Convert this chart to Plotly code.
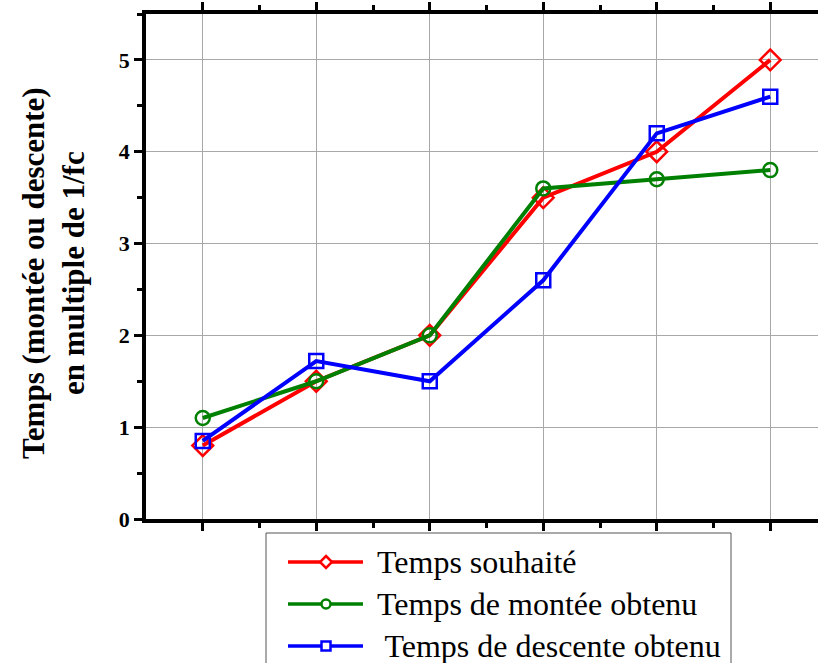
import plotly.graph_objects as go

# Sample index along the horizontal axis (no labels shown)
points = [1, 2, 3, 4, 5, 6]

# Times expressed in multiples of 1/fc
temps_souhaite = [0.8, 1.5, 2.0, 3.5, 4.0, 5.0]
temps_montee = [1.1, 1.5, 2.0, 3.6, 3.7, 3.8]
temps_descente = [0.85, 1.72, 1.5, 2.6, 4.2, 4.6]

series_names = ["Temps souhaité", "Temps de montée obtenu", " Temps de descente obtenu"]
series_colors = ["#ff0000", "#008000", "#0000ff"]
series_symbols = ["diamond-open", "circle-open", "square-open"]
series_sizes = [16, 14, 14]
series_values = [temps_souhaite, temps_montee, temps_descente]

W, H = 818, 663
L, R, T, B = 146, 0, 14, 144
plot_w = W - L - R
plot_h = H - T - B

fig = go.Figure()
for name, vals, col, sym, sz in zip(series_names, series_values, series_colors,
                                    series_symbols, series_sizes):
    fig.add_trace(go.Scatter(
        x=points, y=vals, mode="lines+markers", name=name,
        line=dict(color=col, width=4),
        marker=dict(symbol=sym, size=sz, color=col, line=dict(color=col, width=2.5)),
        showlegend=False,
    ))

# Horizontal range: half a step before the first point, extending past the right edge
step_px = 113.5
x_end = 0.5 + plot_w / step_px

fig.update_xaxes(
    range=[0.5, x_end], tickmode="array", tickvals=points, showticklabels=False,
    ticks="outside", ticklen=8, tickwidth=3, tickcolor="black",
    showline=True, linecolor="black", linewidth=3.5, mirror="ticks",
    showgrid=True, gridcolor="#a8a8a8", gridwidth=1, zeroline=False,
    minor=dict(tickmode="array", tickvals=[p + 0.5 for p in points],
               ticks="outside", ticklen=5, tickwidth=3, tickcolor="black", showgrid=False),
)
fig.update_yaxes(
    range=[0, 5.5], tickmode="array", tickvals=[0, 1, 2, 3, 4, 5],
    tickfont=dict(family="Liberation Serif", size=22, color="black", weight="bold"),
    ticks="outside", ticklen=8, tickwidth=3, tickcolor="black",
    showline=True, linecolor="black", linewidth=3.5,
    showgrid=True, gridcolor="#a8a8a8", gridwidth=1, zeroline=False,
    minor=dict(tickmode="array", tickvals=[0.5, 1.5, 2.5, 3.5, 4.5, 5.5],
               ticks="outside", ticklen=5, tickwidth=3, tickcolor="black", showgrid=False),
)


def px_x(px):
    return (px - L) / plot_w


def px_y(py):
    return (H - B - py) / plot_h


annotations = [
    dict(text="<b>Temps (montée ou descente)<br>en multiple de 1/fc</b>",
         x=px_x(53), y=px_y(273), xref="paper", yref="paper",
         xanchor="center", yanchor="middle", textangle=-90, showarrow=False,
         font=dict(family="Liberation Serif", size=31, color="black")),
]

# Legend box drawn below the plot
shapes = [dict(type="rect", xref="paper", yref="paper",
               x0=px_x(266), x1=px_x(731), y0=px_y(533), y1=px_y(700),
               line=dict(color="#555555", width=1), fillcolor="white", layer="below")]

legend_rows = [562, 604, 646]
mx, r = 326, 4.5
for name, col, sym, ry in zip(series_names, series_colors, series_symbols, legend_rows):
    shapes.append(dict(type="line", xref="paper", yref="paper",
                       x0=px_x(288), x1=px_x(363), y0=px_y(ry), y1=px_y(ry),
                       line=dict(color=col, width=3.5), layer="above"))
    marker_line = dict(color=col, width=2.5)
    if sym.startswith("diamond"):
        rr = r + 1.5
        path = "M{},{} L{},{} L{},{} L{},{} Z".format(
            px_x(mx), px_y(ry - rr), px_x(mx + rr), px_y(ry),
            px_x(mx), px_y(ry + rr), px_x(mx - rr), px_y(ry))
        shapes.append(dict(type="path", xref="paper", yref="paper", path=path,
                           line=marker_line, fillcolor="white", layer="above"))
    else:
        shapes.append(dict(type="circle" if sym.startswith("circle") else "rect",
                           xref="paper", yref="paper",
                           x0=px_x(mx - r), x1=px_x(mx + r),
                           y0=px_y(ry + r), y1=px_y(ry - r),
                           line=marker_line, fillcolor="white", layer="above"))
    annotations.append(dict(text=name, x=px_x(375), y=px_y(ry), xref="paper", yref="paper",
                            xanchor="left", yanchor="middle", showarrow=False,
                            font=dict(family="Liberation Serif", size=32, color="black")))

fig.update_layout(
    width=W, height=H,
    margin=dict(l=L, r=R, t=T, b=B, autoexpand=False),
    paper_bgcolor="white", plot_bgcolor="white",
    showlegend=False,
    shapes=shapes, annotations=annotations,
)

fig.write_html("out.html")
